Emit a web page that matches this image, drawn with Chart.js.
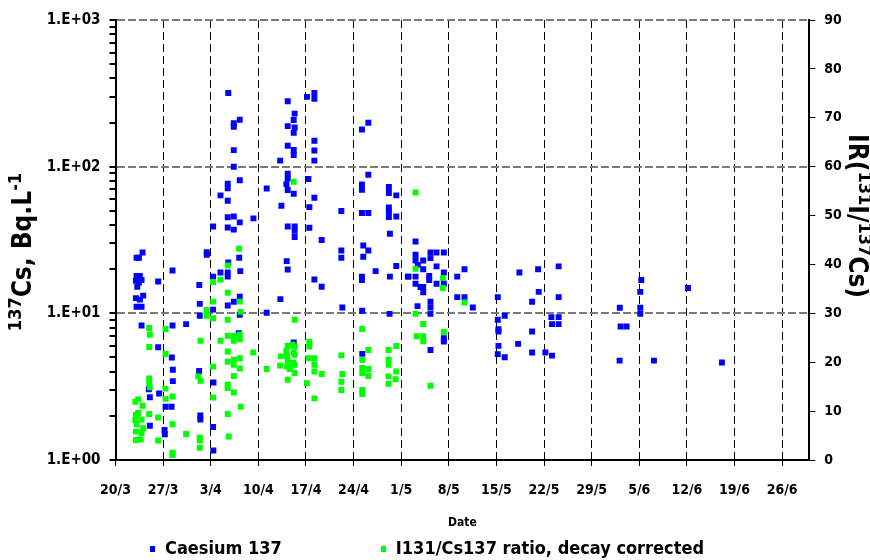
<!DOCTYPE html>
<html>
<head>
<meta charset="utf-8">
<script src="https://cdn.jsdelivr.net/npm/chart.js@4.4.1/dist/chart.umd.min.js"></script>
<style>
  body { margin: 0; background: #fff; }
  #wrap { position: relative; width: 870px; height: 560px; }
  #legend { position: absolute; left: 150px; top: 537px; display: flex; gap: 99px;
            font: bold 18px "DejaVu Sans Condensed", "DejaVu Sans", sans-serif; color: #000; line-height: 22px; }
  #legend .box { display: inline-block; width: 5px; height: 6px; margin-right: 10px; vertical-align: 2px; }
</style>
</head>
<body>
<div id="wrap">
  <canvas id="chart" width="870" height="560"></canvas>
  <div id="legend"></div>
</div>
<script>
// days counted from 20/3
const dateLabels = ['20/3', '27/3', '3/4', '10/4', '17/4', '24/4', '1/5', '8/5', '15/5', '22/5', '29/5', '5/6', '12/6', '19/6', '26/6'];
const logLabels = ['1.E+00', '1.E+01', '1.E+02', '1.E+03'];
// axis titles as [text, superscript?] pieces
const leftTitle = [['137', true], ['Cs, Bq.L', false], ['-1', true]];
const rightTitle = [['IR(', false], ['131', true], ['I/', false], ['137', true], ['Cs)', false]];

// Caesium 137, Bq/L
const csDays = [
  3.98, 3.1, 3.44, 3.1, 3.58, 3.83, 3.0, 3.44, 3.2, 4.07, 3.0, 3.58, 3.1, 3.83, 3.83,
  4.9, 5.05, 5.05, 6.27, 6.27, 6.42, 7.36, 8.24, 7.21, 7.25, 8.38, 8.38, 8.28, 8.43, 8.43,
  10.38, 12.32, 12.39, 12.39, 12.3, 12.47, 12.47, 13.42, 13.42, 14.35, 14.35, 14.35, 14.4, 14.35, 14.38,
  15.43, 15.43, 16.58, 16.5, 16.5, 16.5, 16.5, 16.5, 16.58, 16.5, 16.5, 16.5,
  17.39, 17.39, 17.39, 17.39, 17.39, 17.39, 17.39,
  18.27, 18.27, 18.27, 18.19, 18.34, 18.27, 18.27, 18.12, 20.28, 22.23, 22.23,
  24.21, 24.39, 24.24, 25.32, 25.32, 25.32, 25.32, 25.32, 25.13, 25.32, 25.32, 25.17, 25.32,
  26.34, 26.2, 26.34, 26.2, 26.2, 26.2, 26.2, 26.34, 26.34, 26.34, 26.2,
  28.15, 29.24, 29.24, 29.24, 29.24, 29.24, 28.36, 29.24, 28.5, 28.5, 30.31, 29.24, 30.31,
  33.2, 33.2, 33.2, 33.35,
  37.17, 36.23, 37.17, 36.23, 36.23, 36.23, 37.17, 36.43, 37.17, 36.43, 36.23, 36.23, 36.26, 36.28, 38.24,
  40.19, 40.19, 41.28, 40.19, 40.19, 40.19, 41.28, 40.34, 41.28, 40.34, 42.98, 40.29,
  44.11, 44.11, 44.11, 44.45, 46.31, 46.31, 47.2, 48.27, 45.24, 45.24, 47.2, 48.27, 43.08, 44.11, 44.11,
  46.12, 46.12, 47.2, 48.27, 44.85, 45.24, 45.24, 46.31, 46.31, 46.31, 44.4, 46.31, 48.27, 48.27,
  50.24, 51.31, 50.24, 51.31, 52.53,
  56.2, 56.2, 57.22, 56.3, 56.3, 56.3, 56.2, 57.22,
  59.38, 59.19, 62.13, 62.22, 61.25, 61.25, 61.25, 63.2, 64.18, 65.15, 65.15, 64.08, 65.15, 64.18, 65.15,
  74.14, 74.26, 75.14, 74.11, 77.3, 77.15, 77.15, 77.15, 79.16, 84.16, 89.15
];
const csValues = [
  26.0, 23.9, 23.9, 18.0, 18.0, 16.9, 16.7, 16.2, 15.2, 13.2, 12.7, 12.4, 11.1, 11.1, 8.26,
  3.04, 2.68, 1.71, 16.5, 5.88, 2.84, 2.31, 2.31, 1.60, 1.50, 19.6, 8.26, 5.0, 4.12, 3.45,
  8.44, 15.6, 11.6, 9.62, 4.05, 2.01, 1.89, 26.1, 25.1, 39.1, 17.8, 10.6, 3.38, 1.68, 1.16,
  63.7, 19.0, 318, 76.6, 71.3, 58.6, 45.2, 38.5, 22.2, 19.0, 17.8, 11.3,
  198, 187, 129.6, 100, 45.8, 37.2, 12.0,
  209, 80.9, 41.7, 23.9, 19.4, 13.0, 9.77, 7.33, 44.4, 71.0, 10.1,
  110, 54.2, 12.5, 279, 189, 139, 89.6, 83, 76, 69.3, 39.1, 22.7, 19.9,
  230, 208, 185, 170, 130, 120, 65.4, 39.1, 36.6, 33.1, 6.34,
  299, 318, 290, 150, 129, 110, 82.4, 61.4, 53, 38.3, 31.6, 17.0, 15.2,
  49.8, 26.8, 23.9, 10.96,
  199, 179, 88.2, 75.7, 69.7, 48.3, 48.3, 29.0, 26.8, 24.3, 17.8, 16.9, 10.4, 5.29, 19.4,
  72.7, 66.2, 63.7, 52.8, 49.5, 45.4, 45.8, 34.9, 21.0, 17.8, 17.8, 9.92,
  30.9, 25.1, 22.9, 21.4, 26.0, 23.8, 26.0, 26.0, 22.9, 20.0, 20.9, 19.0, 17.8, 17.8, 15.9,
  18.0, 16.9, 15.9, 15.9, 15.1, 15.1, 13.9, 12.0, 10.96, 9.92, 11.2, 5.63, 6.77, 6.42,
  17.8, 20.0, 12.9, 12.9, 10.96,
  12.9, 9.03, 9.62, 7.80, 7.51, 6.0, 5.27, 5.02,
  19.0, 6.19, 20.0, 14.0, 12.0, 7.51, 5.40, 5.40, 5.15, 20.9, 12.9, 9.42, 9.42, 8.44, 8.44,
  10.9, 8.13, 8.13, 4.76, 16.9, 14.0, 10.9, 9.92, 4.76, 14.9, 4.62
];

// I131/Cs137 ratio, decay corrected
const ratioDays = [
  3.33, 2.92, 3.98, 3.0, 3.33, 2.92, 3.1, 3.83, 4.07, 3.0, 3.83, 3.0, 3.69,
  4.95, 5.05, 4.95, 4.95, 4.95, 5.05, 4.95, 6.27, 6.27, 7.36, 7.36, 7.33, 7.36, 8.38, 8.38, 8.38, 8.38, 10.38,
  12.5, 12.17, 12.5, 12.39, 12.39, 12.39, 13.38, 13.38, 14.35, 14.35, 14.35, 14.35, 14.35, 15.43, 15.43,
  16.5, 16.5, 16.5, 16.5, 16.5, 16.5, 16.5, 16.5, 16.5, 16.65,
  17.39, 17.39, 17.39, 17.39, 17.39, 17.39,
  18.17, 18.27, 18.41, 18.27, 18.27, 18.27, 18.27, 18.41, 20.25, 22.23,
  25.32, 26.0, 26.34, 25.13, 26.2, 24.3, 25.21, 26.34, 25.32, 26.1, 25.21, 26.34, 25.61, 26.34, 25.32, 24.19, 26.2, 26.34,
  28.5, 28.5, 28.36, 29.24, 29.24, 29.24, 30.31, 28.15, 29.24,
  33.2, 33.35, 33.2, 33.2,
  36.28, 37.17, 36.28, 36.28, 37.17, 36.28, 37.17, 36.28, 36.28,
  40.15, 41.28, 40.15, 40.15, 41.28, 40.15, 40.15, 41.17,
  44.11, 44.11, 48.12, 48.12, 51.31, 44.11, 45.24, 48.27, 44.3, 45.24, 45.24, 46.31
];
const ratioValues = [
  12.4, 11.9, 11.1, 9.2, 9.6, 8.2, 7.3, 8.3, 6.5, 5.8, 5.5, 4.1, 4.2,
  27.0, 25.6, 23.1, 16.7, 15.6, 14.9, 9.4, 8.7, 4.0, 26.8, 21.7, 14.6, 12.5, 13.0, 7.3, 1.5, 1.0, 5.3,
  24.4, 17.1, 16.2, 4.6, 4.0, 2.5, 30.7, 29.5, 36.4, 32.4, 29.0, 19.1, 12.8, 36.9, 24.4,
  39.8, 34.2, 28.7, 25.4, 22.2, 20.1, 15.4, 14.7, 9.4, 4.8,
  25.4, 24.4, 20.5, 19.5, 17.2, 13.8,
  43.2, 32.4, 30.3, 25.6, 24.7, 20.8, 18.7, 10.9, 22.0, 18.6,
  23.3, 23.6, 23.2, 22.4, 22.0, 21.2, 21.3, 21.5, 20.3, 19.9, 19.1, 19.5, 18.6, 17.8, 16.4, 19.3, 56.9, 28.7,
  24.2, 23.2, 20.8, 20.8, 19.5, 18.1, 17.6, 15.7, 12.6,
  21.4, 17.6, 16.0, 14.3,
  26.8, 22.5, 20.5, 18.8, 18.6, 17.8, 17.2, 14.3, 13.5,
  22.5, 23.3, 20.5, 19.5, 18.1, 17.1, 15.6, 16.5,
  54.7, 39.1, 37.2, 35.2, 32.2, 29.9, 27.8, 26.2, 25.3, 25.3, 24.3, 15.2
];

const FONT = '"DejaVu Sans Condensed", "DejaVu Sans", sans-serif';
Chart.defaults.font.family = FONT;
Chart.defaults.color = '#000';

const isDecade = v => Math.abs(Math.log10(v) - Math.round(Math.log10(v))) < 1e-9;

// vertical axis titles with real superscripts
const axisTitles = {
  id: 'axisTitles',
  afterDraw(chart) {
    const { ctx, chartArea } = chart;
    const draw = (parts, cx, cy, angle) => {
      ctx.save();
      ctx.fillStyle = '#000';
      ctx.textBaseline = 'middle';
      let total = 0;
      parts.forEach(([t, sup]) => {
        ctx.font = 'bold ' + (sup ? 18 : 26) + 'px ' + FONT;
        total += ctx.measureText(t).width;
      });
      ctx.translate(cx, cy);
      ctx.rotate(angle);
      let x = -total / 2;
      parts.forEach(([t, sup]) => {
        ctx.font = 'bold ' + (sup ? 18 : 26) + 'px ' + FONT;
        ctx.fillText(t, x, sup ? -8 : 0);
        x += ctx.measureText(t).width;
      });
      ctx.restore();
    };
    const midY = (chartArea.top + chartArea.bottom) / 2;
    draw(leftTitle, chart.scales.y.left + 24, midY + 12, -Math.PI / 2);
    draw(rightTitle, chart.scales.y2.right - 14, midY - 24, Math.PI / 2);
  }
};

const chart = new Chart(document.getElementById('chart'), {
  type: 'scatter',
  data: {
    datasets: [{
      label: 'Caesium 137',
      data: csDays.map((d, i) => ({ x: d, y: csValues[i] })),
      yAxisID: 'y',
      backgroundColor: '#0000ff',
      borderWidth: 0,
      pointStyle: 'rect',
      pointRadius: 4.2,
      order: 1
    }, {
      label: 'I131/Cs137 ratio, decay corrected',
      data: ratioDays.map((d, i) => ({ x: d, y: ratioValues[i] })),
      yAxisID: 'y2',
      backgroundColor: '#00ff00',
      borderWidth: 0,
      pointStyle: 'rect',
      pointRadius: 4.2,
      order: 0
    }]
  },
  options: {
    responsive: false,
    animation: false,
    layout: { padding: { top: 20, left: 0, right: 0, bottom: 28 } },
    plugins: { legend: { display: false }, tooltip: { enabled: false } },
    scales: {
      x: {
        type: 'linear', min: 0, max: 102,
        afterBuildTicks: s => { s.ticks = dateLabels.map((_, i) => ({ value: i * 7 })); },
        afterFit: s => { s.height = 72; },
        ticks: { autoSkip: false, maxRotation: 0, padding: 16, font: { size: 14, weight: 'bold' },
                 callback: (v, i) => dateLabels[i] },
        grid: { color: c => c.index === 0 ? 'rgba(0,0,0,0)' : '#000', lineWidth: 1, tickColor: '#000', tickLength: 6 },
        border: { color: '#000', width: 2, dash: [8, 4] },
        title: { display: true, text: 'Date', font: { size: 12, weight: 'bold' }, padding: { top: 0, bottom: 2 } }
      },
      y: {
        type: 'logarithmic', position: 'left', min: 1, max: 1000,
        afterBuildTicks: s => {
          const t = [];
          for (let e = 0; e < 3; e++) for (let m = 1; m < 10; m++) t.push({ value: m * Math.pow(10, e), major: m === 1 });
          t.push({ value: 1000, major: true });
          s.ticks = t;
        },
        afterFit: s => { s.width = 115.5; },
        ticks: { autoSkip: false, padding: 9, font: { size: 15, weight: 'bold' },
                 callback: v => isDecade(v) ? logLabels[Math.round(Math.log10(v))] : '' },
        grid: { color: c => (c.tick && c.tick.value > 1 && isDecade(c.tick.value)) ? '#7a7a7a' : 'rgba(0,0,0,0)',
                lineWidth: 2, tickColor: '#000', tickLength: 6 },
        border: { color: '#000', width: 2, dash: [8, 3] }
      },
      y2: {
        type: 'linear', position: 'right', min: 0, max: 90,
        afterFit: s => { s.width = 60.7; },
        ticks: { stepSize: 10, padding: 9, font: { size: 14, weight: 'bold' } },
        grid: { drawOnChartArea: false, tickColor: '#000', tickLength: 6 },
        border: { color: '#000', width: 2 }
      }
    }
  },
  plugins: [axisTitles]
});

// legend below the chart
const legendEl = document.getElementById('legend');
chart.data.datasets.forEach(ds => {
  const item = document.createElement('div');
  const box = document.createElement('span');
  box.className = 'box';
  box.style.background = ds.backgroundColor;
  item.appendChild(box);
  item.appendChild(document.createTextNode(ds.label));
  legendEl.appendChild(item);
});
</script>
</body>
</html>
